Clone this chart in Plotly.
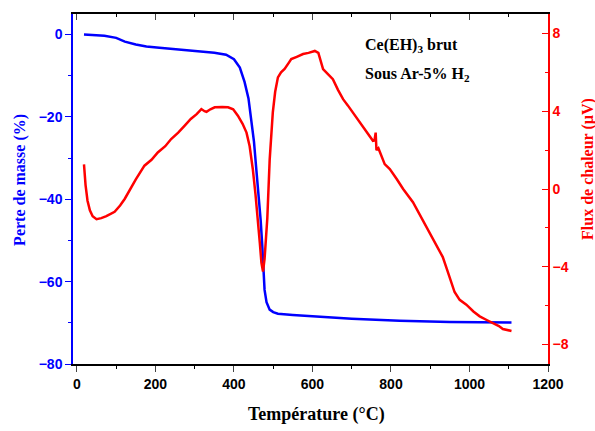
import plotly.graph_objects as go

# TG curve (mass loss, %)
temp_mass = [18, 40, 70, 100, 122, 150, 177, 210, 250, 300, 350, 380, 400, 415,
             427, 437, 444, 451, 457, 463, 468, 472, 475, 478, 483, 491, 500, 512,
             550, 593, 700, 822, 950, 1107]
mass = [0, -0.1, -0.3, -0.8, -1.7, -2.4, -2.9, -3.2, -3.5, -3.9, -4.4, -4.9, -6.0, -8.0,
        -11.5, -15.5, -20.7, -26.0, -32.8, -39.0, -45.0, -51.0, -57.0, -62.0, -65.0, -66.8, -67.4, -67.8,
        -68.1, -68.4, -69.0, -69.5, -69.8, -69.9]

# DTA curve (heat flow, µV)
temp_heat = [18, 22, 27, 33, 40, 50, 62, 75, 96, 110, 122, 135, 150, 172, 190, 206, 225, 240,
             258, 274, 290, 305, 317, 325, 330, 340, 351, 370, 385, 398, 410, 422, 432, 440,
             448, 455, 461, 466, 470, 474, 478, 482, 485, 491, 499, 505, 512, 520, 529, 540,
             546, 560, 576, 590, 606, 615, 627, 640, 652, 665, 678, 690, 703, 720, 735, 746,
             754, 758, 761, 763, 768, 784, 797, 815, 831, 856, 875, 890, 907, 920, 932, 942,
             950, 962, 975, 992, 1010, 1026, 1045, 1060, 1075, 1085, 1095, 1107]
heat = [1.27, 0.2, -0.6, -1.1, -1.4, -1.55, -1.5, -1.4, -1.17, -0.85, -0.5, 0.0, 0.5, 1.2, 1.5, 1.88, 2.2, 2.57,
        2.9, 3.25, 3.6, 3.85, 4.11, 4.0, 3.97, 4.1, 4.2, 4.22, 4.2, 4.1, 3.77, 3.35, 2.9, 2.2,
        1.03, -0.3, -1.54, -2.8, -3.8, -4.25, -3.6, -2.5, -1.5, 1.5, 3.94, 5.0, 5.74, 6.0, 6.17, 6.5,
        6.68, 6.8, 6.94, 7.0, 7.1, 7.0, 6.17, 5.9, 5.65, 5.1, 4.62, 4.3, 3.94, 3.43, 3.0, 2.74,
        2.48, 2.5, 2.9, 2.0, 2.1, 1.28, 1.03, 0.5, 0.0, -0.68, -1.37, -1.9, -2.57, -3.0, -3.5, -4.1,
        -4.62, -5.3, -5.7, -5.95, -6.3, -6.55, -6.75, -6.9, -7.05, -7.2, -7.25, -7.3]

sans = "Liberation Sans, Arial, sans-serif"
serif = "Liberation Serif, Times New Roman, serif"

fig = go.Figure()
fig.add_trace(go.Scatter(x=temp_mass, y=mass, mode="lines",
                         line=dict(color="#0000ff", width=2.5), showlegend=False))
fig.add_trace(go.Scatter(x=temp_heat, y=heat, mode="lines", yaxis="y2",
                         line=dict(color="#ff0000", width=2.5), showlegend=False))
# dummy trace so the top axis gets drawn
fig.add_trace(go.Scatter(x=[None], y=[None], xaxis="x2", showlegend=False, hoverinfo="skip"))

fig.update_layout(
    width=595, height=431,
    margin=dict(l=73, r=47, t=14, b=67, autoexpand=False),
    plot_bgcolor="white", paper_bgcolor="white",
    xaxis=dict(range=[-10, 1200], tick0=0, dtick=200, ticks="outside", ticklen=6, tickwidth=1.2,
               minor=dict(dtick=100, ticks="outside", ticklen=3, tickcolor="black"),
               showline=True, linecolor="black", linewidth=1.5, showgrid=False, zeroline=False,
               automargin=False,
               tickfont=dict(family=sans, size=14, color="black", weight="bold")),
    xaxis2=dict(range=[-10, 1200], overlaying="x", side="top", anchor="y", tick0=0, dtick=200,
                ticks="inside", ticklen=6, minor=dict(dtick=100, ticks="inside", ticklen=3, tickcolor="black"),
                showticklabels=False, showline=True, linecolor="black", linewidth=1.5,
                showgrid=False, zeroline=False, automargin=False),
    yaxis=dict(range=[-80, 5], tick0=0, dtick=20, ticks="outside", ticklen=6, tickcolor="#0000ff",
               minor=dict(dtick=10, ticks="outside", ticklen=3, tickcolor="#0000ff"),
               showline=True, linecolor="#0000ff", linewidth=1.5, showgrid=False, zeroline=False,
               automargin=False,
               tickfont=dict(family=sans, size=14, color="#0000ff", weight="bold")),
    yaxis2=dict(range=[-9, 9], tick0=0, dtick=4, overlaying="y", side="right", anchor="x",
                ticks="inside", ticklen=6, tickcolor="#ff0000",
                minor=dict(dtick=2, ticks="inside", ticklen=3, tickcolor="#ff0000"),
                showline=True, linecolor="#ff0000", linewidth=1.5, showgrid=False, zeroline=False,
                automargin=False,
                tickfont=dict(family=sans, size=14, color="#ff0000", weight="bold")),
)

# axis titles as annotations for precise placement
fig.add_annotation(x=0.513, y=-0.145, xref="paper", yref="paper", xanchor="center", yanchor="middle",
                   text="<b>Température (°C)</b>", showarrow=False,
                   font=dict(family=serif, size=18, color="black"))
fig.add_annotation(x=-0.1116, y=0.526, xref="paper", yref="paper", xanchor="center", yanchor="middle",
                   text="<b>Perte de masse (%)</b>", showarrow=False, textangle=-90,
                   font=dict(family=serif, size=16, color="#0000ff"))
fig.add_annotation(x=1.084, y=0.557, xref="paper", yref="paper", xanchor="center", yanchor="middle",
                   text="<b>Flux de chaleur (µV)</b>", showarrow=False, textangle=-90,
                   font=dict(family=serif, size=16, color="#ff0000"))

fig.add_annotation(x=0.6105, y=0.911, xref="paper", yref="paper", xanchor="left", yanchor="middle",
                   text="<b>Ce(EH)<sub>3</sub> brut</b>", showarrow=False,
                   font=dict(family=serif, size=16, color="black"))
fig.add_annotation(x=0.6105, y=0.826, xref="paper", yref="paper", xanchor="left", yanchor="middle",
                   text="<b>Sous Ar-5% H<sub>2</sub></b>", showarrow=False,
                   font=dict(family=serif, size=16, color="black"))

# drop the default page margin so the figure sits at the window's top-left corner
fig.write_html("out.html", config={"displayModeBar": False},
               post_script="document.body.style.margin='0';")
